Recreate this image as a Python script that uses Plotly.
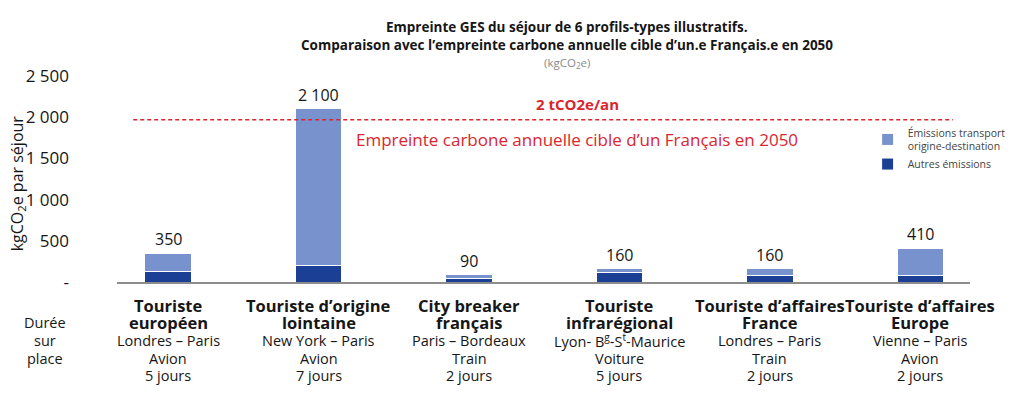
import plotly.graph_objects as go

# ---- data ----
profils = ["Touriste<br>européen", "Touriste d’origine<br>lointaine", "City breaker<br>français",
           "Touriste<br>infrarégional", "Touriste d’affaires<br>France", "Touriste d’affaires<br>Europe"]
trajets = ["Londres – Paris", "New York – Paris", "Paris – Bordeaux",
           "Lyon- B<sup>g</sup>-S<sup>t</sup>-Maurice", "Londres – Paris", "Vienne – Paris"]
modes = ["Avion", "Avion", "Train", "Voiture", "Train", "Avion"]
durees = ["5 jours", "7 jours", "2 jours", "5 jours", "2 jours", "2 jours"]
autres = [130, 200, 40, 120, 80, 75]
transport = [220, 1900, 50, 40, 80, 335]
totaux = [350, 2100, 90, 160, 160, 410]
total_labels = ["350", "2 100", "90", "160", "160", "410"]
cible = 1970  # dashed target line as drawn (2 tCO2e/an)
y_ticks = [0, 500, 1000, 1500, 2000, 2500]
y_ticktext = ["-", "500", "1 000", "1 500", "2 000", "2 500"]

FONT = "Open Sans"
DARK = "#1b3f94"
LIGHT = "#7892cd"
RED = "#d9262e"
TXT = "#161616"

xs = list(range(len(profils)))

fig = go.Figure()
fig.add_trace(go.Bar(x=xs, y=autres, name="Autres émissions",
                     marker=dict(color=DARK, line=dict(color="white", width=1)), width=0.31))
fig.add_trace(go.Bar(x=xs, y=transport, name="Émissions transport<br>origine-destination",
                     marker=dict(color=LIGHT, line=dict(color="white", width=1)), width=0.31))

BOLD_Y = [-0.112, -0.199]
REG_Y = [-0.2816, -0.369, -0.456]

annotations = []
for i in xs:
    annotations.append(dict(x=i, y=totaux[i], text=total_labels[i], showarrow=False, yanchor="bottom", yshift=1,
                            font=dict(size=16, color=TXT, family=FONT)))
    for line, yy in zip(profils[i].split("<br>"), BOLD_Y):
        annotations.append(dict(x=i, y=yy, yref="paper", yanchor="middle", text=f"<b>{line}</b>",
                                showarrow=False, font=dict(size=16.5, color=TXT, family=FONT)))
    for line, yy in zip([trajets[i], modes[i], durees[i]], REG_Y):
        annotations.append(dict(x=i, y=yy, yref="paper", yanchor="middle", text=line,
                                showarrow=False, font=dict(size=14.5, color=TXT, family=FONT)))

for line, yy in zip(["Durée", "sur", "place"], [-0.199, -0.2816, -0.369]):
    annotations.append(dict(x=-0.084, xref="paper", xanchor="center", y=yy, yref="paper", yanchor="middle",
                            text=line, showarrow=False, font=dict(size=14.5, color=TXT, family=FONT)))

annotations += [
    dict(x=-0.117, xref="paper", xanchor="center", y=0.48, yref="paper", yanchor="middle",
         text="kgCO<sub>2</sub>e par séjour", textangle=-90,
         showarrow=False, font=dict(size=16, color=TXT, family=FONT)),
    dict(x=2.72, y=cible, text="<b>2 tCO2e/an</b>", showarrow=False, yanchor="bottom", yshift=4,
         font=dict(size=15, color=RED, family=FONT)),
    dict(x=2.72, y=cible, text="Empreinte carbone annuelle cible d’un Français en 2050", showarrow=False,
         yanchor="top", yshift=-6, font=dict(size=17, color=RED, family=FONT)),
    # title lines
    dict(x=0.527, xref="paper", xanchor="center", y=1.238, yref="paper", yanchor="middle",
         text="<b>Empreinte GES du séjour de 6 profils-types illustratifs.</b>", showarrow=False,
         font=dict(size=13.5, color=TXT, family=FONT)),
    dict(x=0.527, xref="paper", xanchor="center", y=1.150, yref="paper", yanchor="middle",
         text="<b>Comparaison avec l’empreinte carbone annuelle cible d’un.e Français.e en 2050</b>",
         showarrow=False, font=dict(size=13.5, color=TXT, family=FONT)),
    dict(x=0.527, xref="paper", xanchor="center", y=1.063, yref="paper", yanchor="middle",
         text="(kgCO<sub>2</sub>e)", showarrow=False, font=dict(size=11.5, color="#8a8a8a", family=FONT)),
]

fig.add_shape(type="line", xref="paper", x0=0.019, x1=0.98, y0=cible, y1=cible,
              line=dict(color=RED, width=1.5, dash="4px,3px"))

fig.update_layout(
    width=1024, height=398,
    margin=dict(l=117, r=54, t=76, b=116, autoexpand=False),
    barmode="stack",
    plot_bgcolor="white", paper_bgcolor="white",
    font=dict(family=FONT, color=TXT),
    xaxis=dict(range=[-0.34, 5.33], showticklabels=False, showgrid=False, zeroline=False, automargin=False,
               showline=True, linecolor="#8c8c8c", linewidth=1.5, ticks=""),
    yaxis=dict(range=[0, 2500], tickvals=y_ticks, ticktext=y_ticktext, showgrid=False, zeroline=False,
               automargin=False, showline=False, ticks="", ticklabelstandoff=47,
               tickfont=dict(size=17, color=TXT, family=FONT)),
    legend=dict(x=0.88, xanchor="left", y=0.79, yanchor="top", font=dict(size=10.5, color="#444", family=FONT),
                bgcolor="rgba(0,0,0,0)", tracegroupgap=4, traceorder="reversed"),
    annotations=annotations,
    showlegend=True,
)

fig.write_html("out.html", config={"displayModeBar": False},
               post_script="document.body.style.margin='0';document.body.style.padding='0';")
